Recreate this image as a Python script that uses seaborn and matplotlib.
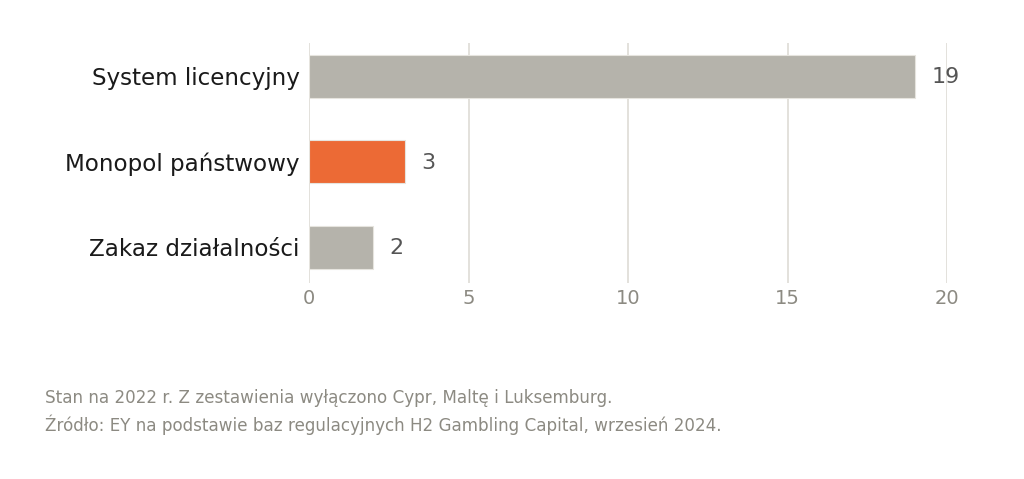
import os
import matplotlib
matplotlib.use("Agg")
import matplotlib.pyplot as plt
from matplotlib import font_manager
import seaborn as sns
import pandas as pd

# data
categories = ["System licencyjny", "Monopol państwowy", "Zakaz działalności"]
values = [19, 3, 2]
bar_colors = ["#b5b3ab", "#ec6a35", "#b5b3ab"]
x_ticks = [0, 5, 10, 15, 20]
notes = [
    "Stan na 2022 r. Z zestawienia wyłączono Cypr, Maltę i Luksemburg.",
    "Źródło: EY na podstawie baz regulacyjnych H2 Gambling Capital, wrzesień 2024.",
]

df = pd.DataFrame({"kategoria": categories, "liczba": values})

sns.set_style("white")
# use matplotlib's own bundled DejaVu Sans
dv = os.path.join(matplotlib.get_data_path(), "fonts", "ttf", "DejaVuSans.ttf")
font_manager.fontManager.addfont(dv)
dv_name = font_manager.FontProperties(fname=dv).get_name()
plt.rcParams["font.family"] = [dv_name]

fig = plt.figure(figsize=(10.24, 4.79), dpi=100)
ax = fig.add_axes([0.302, 0.409, 0.623, 0.501])

sns.barplot(data=df, x="liczba", y="kategoria", hue="kategoria",
            palette=bar_colors, saturation=1, width=0.5, legend=False, ax=ax,
            edgecolor="#e6e4de", linewidth=0.8, zorder=3)

ax.set_xlim(0, 20)
ax.set_ylim(2.42, -0.39)
ax.set_xticks(x_ticks)
ax.grid(axis="x", color="#dedcd6", linewidth=1.2, zorder=0)
ax.set_axisbelow(True)
for s in ax.spines.values():
    s.set_visible(False)
ax.set_xlabel("")
ax.set_ylabel("")
ax.tick_params(axis="x", length=0, labelsize=14, labelcolor="#8c8a82", pad=4)
ax.tick_params(axis="y", length=0, labelsize=16.6, labelcolor="#1a1a1a", pad=7)

for i, v in enumerate(values):
    ax.text(v + 0.52, i + 0.01, str(v), va="center", ha="left", fontsize=16, color="#555555")

fig.text(45 / 1024, 1 - 398 / 479, notes[0], fontsize=12.1, color="#8c8a82", va="center")
fig.text(45 / 1024, 1 - 425 / 479, notes[1], fontsize=12.1, color="#8c8a82", va="center")

fig.savefig("out.png", dpi=100)
